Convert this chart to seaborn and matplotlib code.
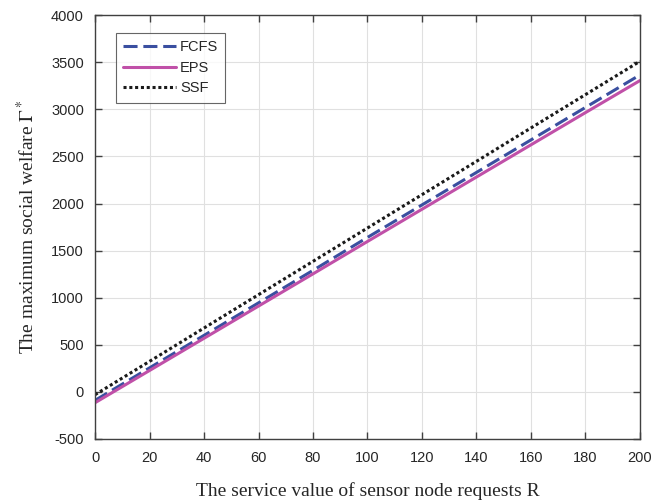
import numpy as np
import pandas as pd
import matplotlib
matplotlib.use("Agg")
import matplotlib.pyplot as plt
import seaborn as sns

R = [0, 20, 40, 60, 80, 100, 120, 140, 160, 180, 200]
fcfs = [-90, 255, 600, 945, 1290, 1640, 1985, 2330, 2675, 3020, 3365]
eps = [-115, 227, 569, 911, 1253, 1597, 1939, 2281, 2623, 2965, 3305]
ssf = [-30, 324, 678, 1032, 1386, 1740, 2094, 2448, 2802, 3156, 3510]

df = pd.DataFrame({"R": R * 3,
                   "value": fcfs + eps + ssf,
                   "scheme": ["FCFS"] * len(R) + ["EPS"] * len(R) + ["SSF"] * len(R)})

sns.set_style("white")
plt.rcParams['font.family'] = ['Liberation Sans', 'DejaVu Sans']
plt.rcParams['axes.unicode_minus'] = False
plt.rcParams['mathtext.fontset'] = 'stix'

fig = plt.figure(figsize=(6.51, 5.04), dpi=100)
ax = fig.add_axes([0.146, 0.129, 0.837, 0.841])

palette = {"FCFS": "#3a4fa0", "EPS": "#c050a8", "SSF": "#1a1a1a"}
styles = {"FCFS": (0, (4.6, 1.9)), "EPS": "-", "SSF": (0, (1, 0.9))}
for name in ["FCFS", "EPS", "SSF"]:
    sub = df[df["scheme"] == name]
    sns.lineplot(data=sub, x="R", y="value", ax=ax, color=palette[name],
                 linewidth=2.2, label=name)
    ax.lines[-1].set_linestyle(styles[name])

ax.set_xlim(0, 200)
ax.set_ylim(-500, 4000)
ax.set_xticks(np.arange(0, 201, 20))
ax.set_yticks(np.arange(-500, 4001, 500))
ax.grid(True, color="#e0e0e0", linewidth=0.8)
for s in ax.spines.values():
    s.set_color("#404040")
    s.set_linewidth(1.0)
ax.tick_params(direction="in", length=5, width=1, color="#404040",
               labelsize=10.5, labelcolor="#262626", top=True, right=True,
               bottom=True, left=True)
ax.tick_params(axis="x", pad=9)
ax.tick_params(axis="y", pad=8)

ax.set_xlabel("The service value of sensor node requests R",
              fontfamily="Liberation Serif", fontsize=14, color="#262626",
              labelpad=12)
ax.set_ylabel(r"The maximum social welfare $\Gamma^*$",
              fontfamily="Liberation Serif", fontsize=14, color="#262626",
              labelpad=9)

leg = ax.legend(loc="upper left", bbox_to_anchor=(0.038, 0.958), fontsize=10.5,
                frameon=True, fancybox=False, edgecolor="#404040",
                borderaxespad=0, handlelength=3.6, borderpad=0.5,
                labelspacing=0.45, handletextpad=0.3)
leg.get_frame().set_linewidth(0.8)

fig.savefig("out.png", dpi=100)
